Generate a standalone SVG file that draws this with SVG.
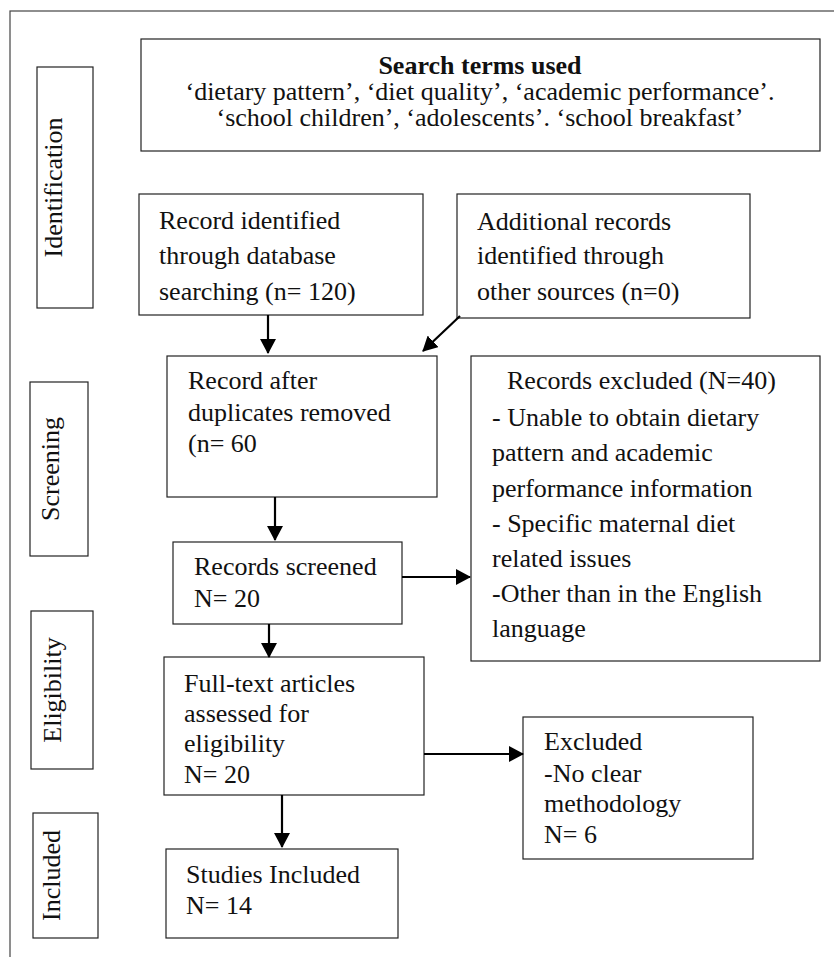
<svg xmlns="http://www.w3.org/2000/svg" width="834" height="957" viewBox="0 0 834 957">
<defs>
<style>
.box{fill:#fff;stroke:#222;stroke-width:1.2}
.frame{fill:none;stroke:#444;stroke-width:1.2}
.t{font-family:"Liberation Serif","Times New Roman",serif;font-size:26px;fill:#111}
.b{font-weight:bold}
.c{text-anchor:middle}
.conn{stroke:#000;stroke-width:2.2;fill:none;marker-end:url(#ah)}
</style>
<marker id="ah" markerUnits="userSpaceOnUse" markerWidth="16" markerHeight="16" refX="14" refY="8" orient="auto">
<path d="M0,0 L15,8 L0,16 Z" fill="#000"/>
</marker>
</defs>
<rect width="834" height="957" fill="#fff"/>
<rect class="frame" x="10" y="11" width="840" height="960"/>

<g id="label-identification">
<rect class="box" x="37" y="67" width="56" height="241"/>
<text class="t c" transform="translate(62,187.5) rotate(-90)">Identification</text>
</g>
<g id="label-screening">
<rect class="box" x="30" y="382" width="58" height="174"/>
<text class="t c" transform="translate(59,469) rotate(-90)">Screening</text>
</g>
<g id="label-eligibility">
<rect class="box" x="31" y="611" width="62" height="158"/>
<text class="t c" transform="translate(61,690) rotate(-90)">Eligibility</text>
</g>
<g id="label-included">
<rect class="box" x="33" y="813" width="65" height="125"/>
<text class="t c" transform="translate(60,875.5) rotate(-90)">Included</text>
</g>

<g id="search-terms">
<rect class="box" x="141" y="39" width="679" height="112"/>
<text class="t b c" x="480" y="74">Search terms used</text>
<text class="t c" x="480" y="100">‘dietary pattern’, ‘diet quality’, ‘academic performance’.</text>
<text class="t c" x="480" y="126">‘school children’, ‘adolescents’. ‘school breakfast’</text>
</g>

<g id="record-identified">
<rect class="box" x="139" y="194" width="284" height="121"/>
<text class="t" x="159" y="229">Record identified</text>
<text class="t" x="159" y="264">through database</text>
<text class="t" x="159" y="300">searching (n= 120)</text>
</g>

<g id="additional-records">
<rect class="box" x="457" y="194" width="293" height="124"/>
<text class="t" x="477" y="230">Additional records</text>
<text class="t" x="477" y="264">identified through</text>
<text class="t" x="477" y="300">other sources (n=0)</text>
</g>

<g id="record-after-duplicates">
<rect class="box" x="167" y="356" width="270" height="141"/>
<text class="t" x="188" y="389">Record after</text>
<text class="t" x="188" y="421">duplicates removed</text>
<text class="t" x="188" y="452">(n= 60</text>
</g>

<g id="records-excluded">
<rect class="box" x="471" y="356" width="349" height="305"/>
<text class="t" x="507" y="389">Records excluded (N=40)</text>
<text class="t" x="492" y="426">- Unable to obtain dietary</text>
<text class="t" x="492" y="461">pattern and academic</text>
<text class="t" x="492" y="497">performance information</text>
<text class="t" x="492" y="532">- Specific maternal diet</text>
<text class="t" x="492" y="567">related issues</text>
<text class="t" x="492" y="602">-Other than in the English</text>
<text class="t" x="492" y="637">language</text>
</g>

<g id="records-screened">
<rect class="box" x="173" y="542" width="229" height="82"/>
<text class="t" x="194" y="575">Records screened</text>
<text class="t" x="194" y="607">N= 20</text>
</g>

<g id="full-text">
<rect class="box" x="164" y="657" width="260" height="138"/>
<text class="t" x="184" y="692">Full-text articles</text>
<text class="t" x="184" y="722">assessed for</text>
<text class="t" x="184" y="752">eligibility</text>
<text class="t" x="184" y="783">N= 20</text>
</g>

<g id="excluded">
<rect class="box" x="523" y="717" width="230" height="142"/>
<text class="t" x="544" y="750">Excluded</text>
<text class="t" x="544" y="782">-No clear</text>
<text class="t" x="544" y="812">methodology</text>
<text class="t" x="544" y="843">N= 6</text>
</g>

<g id="studies-included">
<rect class="box" x="166" y="849" width="232" height="89"/>
<text class="t" x="186" y="883">Studies Included</text>
<text class="t" x="186" y="914">N= 14</text>
</g>

<g id="connectors">
<line class="conn" x1="268" y1="315" x2="268" y2="353"/>
<line class="conn" x1="460" y1="316" x2="423" y2="351"/>
<line class="conn" x1="275" y1="497" x2="275" y2="540"/>
<line class="conn" x1="402" y1="577" x2="470" y2="577"/>
<line class="conn" x1="269" y1="624" x2="269" y2="657"/>
<line class="conn" x1="424" y1="754" x2="523" y2="754"/>
<line class="conn" x1="282" y1="795" x2="282" y2="847"/>
</g>
</svg>
